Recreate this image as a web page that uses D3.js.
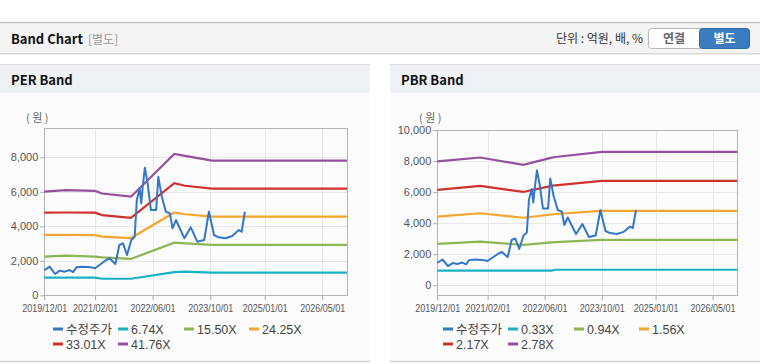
<!DOCTYPE html>
<html>
<head>
<meta charset="utf-8">
<script src="https://cdn.jsdelivr.net/npm/d3@7"></script>
<style>
  body { margin: 0; background: #fff; }
  svg { display: block; font-family: "Liberation Sans", Arial, sans-serif; }
  .kr { font-family: "Noto Sans CJK KR", "Noto Sans", sans-serif; }
  .tick text { fill: #555; font-size: 11px; }
</style>
</head>
<body>
<div id="chart"></div>
<script>
// price (수정주가), shared by both panels
const priceDates = ["2019-12-01","2020-01-15","2020-03-01","2020-04-10","2020-05-20","2020-07-01","2020-08-01","2020-08-28",
  "2020-10-20","2021-01-01","2021-02-01","2021-03-10","2021-05-06","2021-06-03","2021-07-22","2021-08-25","2021-09-25",
  "2021-10-28","2021-12-04","2022-01-01","2022-01-19","2022-02-12","2022-02-25","2022-03-10","2022-03-28","2022-04-20",
  "2022-05-18","2022-07-01","2022-07-19","2022-08-18","2022-09-21","2022-10-25","2022-11-16","2022-12-15","2023-02-24",
  "2023-04-19","2023-06-13","2023-08-10","2023-09-19","2023-11-01","2023-12-10","2024-02-06","2024-04-03","2024-05-28",
  "2024-06-21","2024-07-18"];
const priceValues = [1450,1660,1235,1430,1370,1465,1350,1620,
  1660,1620,1565,1756,2046,2145,1815,2916,3014,
  2336,3205,3397,5525,6200,5333,6296,7400,6493,
  4945,4945,6875,5716,4846,4754,3884,4365,3304,
  3942,3107,3206,4846,3496,3362,3304,3438,3785,
  3687,4846];

// PER band
const perDates = ["2019-12-01","2020-06-01","2021-02-01","2021-04-01","2021-12-01","2022-12-01","2023-03-01","2023-10-15","2026-11-26"];
const per674  = [1030,1030,1020, 960, 960,1340,1368,1310,1310];
const per1550 = [2238,2300,2238,2200,2110,3050,3010,2920,2920];
const per2425 = [3500,3500,3490,3400,3320,4800,4700,4560,4560];
const per3301 = [4790,4800,4790,4650,4490,6500,6350,6180,6180];
const per4176 = [6006,6100,6050,5900,5716,8200,8080,7810,7810];
const perLabels = ["수정주가","6.74X","15.50X","24.25X","33.01X","41.76X"];

// PBR band
const pbrDates = ["2019-12-01","2020-12-01","2021-12-01","2022-08-01","2022-09-01","2023-10-01","2026-11-27"];
const pbr033 = [ 940, 950, 940, 945,1000,1000,1000];
const pbr094 = [2664,2810,2600,2760,2780,2920,2920];
const pbr156 = [4426,4640,4350,4560,4590,4790,4790];
const pbr217 = [6148,6400,6010,6400,6440,6720,6720];
const pbr278 = [7974,8230,7760,8220,8260,8590,8590];
const pbrLabels = ["수정주가","0.33X","0.94X","1.56X","2.17X","2.78X"];

const xTicks = ["2019-12-01","2021-02-01","2022-06-01","2023-10-01","2025-01-01","2026-05-01"];
const yTicksPer = [0,2000,4000,6000,8000];
const yTicksPbr = [0,2000,4000,6000,8000,10000];

const colors = ["#3277c8","#19b2c2","#8cb654","#f4a52e","#d0312d","#94509f"];
const parse = d3.timeParse("%Y-%m-%d");

const W = 760, H = 364;
const svg = d3.select("#chart").append("svg").attr("width", W).attr("height", H);

// top header bar
svg.append("rect").attr("x",0).attr("y",22).attr("width",W).attr("height",31).attr("fill","#f4f4f4");
svg.append("line").attr("x1",0).attr("x2",W).attr("y1",22.5).attr("y2",22.5).attr("stroke","#c4c4c4").attr("stroke-width",1.5);
svg.append("line").attr("x1",0).attr("x2",W).attr("y1",53.5).attr("y2",53.5).attr("stroke","#d8d8d8");
svg.append("line").attr("x1",0).attr("x2",W).attr("y1",54.5).attr("y2",54.5).attr("stroke","#ececec");
svg.append("text").attr("class","kr").attr("x",11).attr("y",44).attr("font-size",13).attr("font-weight","bold")
  .attr("fill","#111").text("Band Chart");
svg.append("text").attr("class","kr").attr("x",88).attr("y",44).attr("font-size",12).attr("fill","#999").text("[별도]");
svg.append("text").attr("class","kr").attr("x",643).attr("y",43).attr("font-size",12).attr("fill","#333")
  .attr("text-anchor","end").text("단위 : 억원, 배, %");
// buttons
svg.append("rect").attr("x",648.5).attr("y",28.5).attr("width",56).attr("height",20).attr("rx",3)
  .attr("fill","#fff").attr("stroke","#b8b8b8");
svg.append("rect").attr("x",699.5).attr("y",28.5).attr("width",50).attr("height",20).attr("rx",3)
  .attr("fill","#3b7bbf").attr("stroke","#2e6aa8");
svg.append("text").attr("class","kr").attr("x",674).attr("y",43).attr("font-size",12).attr("font-weight","bold")
  .attr("fill","#666").attr("text-anchor","middle").text("연결");
svg.append("text").attr("class","kr").attr("x",724.5).attr("y",43).attr("font-size",12).attr("font-weight","bold")
  .attr("fill","#fff").attr("text-anchor","middle").text("별도");

function drawPanel(cfg) {
  const g = svg.append("g");
  const px = cfg.panelX, pw = cfg.panelW;
  g.append("rect").attr("x",px).attr("y",64).attr("width",pw).attr("height",297).attr("fill","#fcfcfd");
  g.append("rect").attr("x",px).attr("y",64).attr("width",pw).attr("height",29).attr("fill","#eef1f6");
  g.append("line").attr("x1",px).attr("x2",px+pw).attr("y1",64.5).attr("y2",64.5).attr("stroke","#dcdcdc");
  g.append("line").attr("x1",px).attr("x2",px+pw).attr("y1",361.5).attr("y2",361.5).attr("stroke","#d4d4d4").attr("stroke-width",1.5);
  g.append("text").attr("class","kr").attr("x",px+11).attr("y",85).attr("font-size",13).attr("font-weight","bold")
    .attr("fill","#111").text(cfg.title);
  g.append("text").attr("class","kr").attr("x",cfg.unitX).attr("y",122).attr("font-size",11).attr("fill","#666").text("( 원 )");

  const x = d3.scaleTime().domain([parse("2019-12-01"), parse(cfg.endDate)]).range([cfg.left, cfg.right]);
  const y = d3.scaleLinear().domain(cfg.yDomain).range([cfg.bottom, cfg.top]);

  // grid
  g.append("g").selectAll("line").data(cfg.yTicks).join("line")
    .attr("x1",cfg.left).attr("x2",cfg.right)
    .attr("y1",d => Math.round(y(d))+0.5).attr("y2",d => Math.round(y(d))+0.5)
    .attr("stroke","#e8e8e8");
  g.append("g").selectAll("line").data(xTicks.map(parse)).join("line")
    .attr("x1",d => Math.round(x(d))+0.5).attr("x2",d => Math.round(x(d))+0.5)
    .attr("y1",cfg.top).attr("y2",cfg.bottom)
    .attr("stroke","#e8e8e8");

  // axes
  const xAxis = d3.axisBottom(x).tickValues(xTicks.map(parse)).tickFormat(d3.timeFormat("%Y/%m/%d"))
    .tickSize(5).tickPadding(4);
  const xa = g.append("g").attr("transform",`translate(0,${cfg.bottom})`).call(xAxis);
  xa.select(".domain").remove();
  xa.selectAll(".tick line").attr("stroke","#aaa");
  xa.selectAll(".tick text").attr("textLength",45).attr("lengthAdjust","spacingAndGlyphs");

  const yAxis = d3.axisLeft(y).tickValues(cfg.yTicks).tickFormat(d3.format(",")).tickSize(4).tickPadding(2);
  const ya = g.append("g").attr("transform",`translate(${cfg.left},0)`).call(yAxis);
  ya.select(".domain").remove();
  ya.selectAll(".tick line").attr("stroke","#aaa");

  g.append("rect").attr("x",Math.round(cfg.left)+0.5).attr("y",Math.round(cfg.top)+0.5)
    .attr("width",Math.round(cfg.right-cfg.left)).attr("height",Math.round(cfg.bottom-cfg.top))
    .attr("fill","none").attr("stroke","#b5b5b5");

  // lines
  const line = d3.line().x(d => x(d[0])).y(d => y(d[1]));
  const bandDates = cfg.bandDates.map(parse);
  cfg.bands.forEach((vals, i) => {
    g.append("path").datum(bandDates.map((d, j) => [d, vals[j]]))
      .attr("fill","none").attr("stroke",colors[i+1]).attr("stroke-width",2.2).attr("d",line);
  });
  g.append("path").datum(priceDates.map((d, j) => [parse(d), priceValues[j]]))
    .attr("fill","none").attr("stroke",colors[0]).attr("stroke-width",2).attr("stroke-linejoin","round").attr("d",line);

  // legend
  const offs = [53, 118, 184, 249];
  cfg.labels.forEach((lab, i) => {
    const lx = px + offs[i % 4], ly = i < 4 ? 329 : 344;
    g.append("line").attr("x1",lx).attr("x2",lx+10).attr("y1",ly).attr("y2",ly)
      .attr("stroke",colors[i]).attr("stroke-width",3);
    g.append("text").attr("class", i === 0 ? "kr" : null).attr("x",lx+13).attr("y",ly+4.5)
      .attr("font-size",12.5).attr("fill","#444").text(lab);
  });
}

drawPanel({
  title: "PER Band", panelX: 0, panelW: 370, unitX: 26,
  left: 44.3, right: 347, top: 128, bottom: 295.3,
  yDomain: [0, 9700], yTicks: yTicksPer, endDate: "2026-11-26",
  bandDates: perDates, bands: [per674, per1550, per2425, per3301, per4176], labels: perLabels
});
drawPanel({
  title: "PBR Band", panelX: 390, panelW: 370, unitX: 419,
  left: 437.3, right: 737.3, top: 130, bottom: 295.3,
  yDomain: [-645, 10000], yTicks: yTicksPbr, endDate: "2026-11-27",
  bandDates: pbrDates, bands: [pbr033, pbr094, pbr156, pbr217, pbr278], labels: pbrLabels
});
</script>
</body>
</html>
